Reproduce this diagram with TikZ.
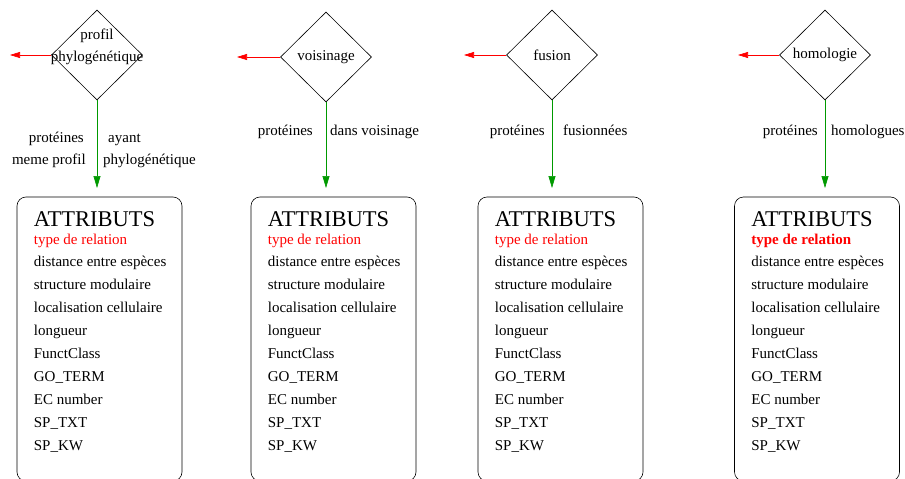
\documentclass[tikz,border=0pt]{standalone}
\usepackage{fontspec}
\setmainfont{Liberation Serif}
\usetikzlibrary{shapes.geometric,arrows.meta,calc}

\newcommand{\attrlines}[2]{%
   \node[anchor=base west,font=\fontsize{22.5}{24}\selectfont] (#1t) at ($(#1.north west)+(17,30)$) {ATTRIBUTS};
   \node[anchor=base west,text=red,font=\fontsize{15}{17}\selectfont#2] (#1r) at ($(#1.north west)+(17,48)$) {type de relation};
   \foreach \t [count=\i] in {distance entre espèces,structure modulaire,localisation cellulaire,longueur,FunctClass,GO\_TERM,EC number,SP\_TXT,SP\_KW}
      \node[anchor=base west] (#1-\i) at ($(#1.north west)+(17,47+23*\i)$) {\t};
}

\begin{document}
\begin{tikzpicture}[x=1pt,y=-1pt,
   every node/.style={font=\fontsize{15}{17}\selectfont,inner sep=0pt},
   relnode/.style={draw,shape=diamond,minimum width=91pt,minimum height=90pt,line width=0.6pt},
   attrbox/.style={draw,rounded corners=9pt,minimum width=165pt,minimum height=284pt,line width=0.6pt},
   redarr/.style={draw=red,line width=0.6pt,-{Triangle[length=10pt,width=6pt]}},
   greenarr/.style={draw=green!60!black,line width=0.6pt,-{Triangle[length=12pt,width=7pt]}}]
   \useasboundingbox (0,0) rectangle (905,479);
   \begin{scope}
   \clip (0,0) rectangle (905,479);

   % relations
   \node[relnode] (d1) at (97,55) {};
   \node[relnode] (d2) at (326,57) {};
   \node[relnode] (d3) at (552,55) {};
   \node[relnode] (d4) at (825,55) {};
   \node[align=center,font=\fontsize{15}{22}\selectfont] (d1t) at (97,47) {profil\\phylogénétique};
   \node (d2t) at (d2) {voisinage};
   \node (d3t) at (d3) {fusion};
   \node (d4t) at (d4) {homologie};

   % free ends of the red arrows
   \coordinate (e1) at (10,55);
   \coordinate (e2) at (237,57);
   \coordinate (e3) at (464,55);
   \coordinate (e4) at (738,55);
   \draw[redarr] (d1.west) -- (e1);
   \draw[redarr] (d2.west) -- (e2);
   \draw[redarr] (d3.west) -- (e3);
   \draw[redarr] (d4.west) -- (e4);

   % attribute boxes
   \node[attrbox] (b1) at (99.5,339) {};
   \node[attrbox] (b2) at (333.5,339) {};
   \node[attrbox] (b3) at (560.5,339) {};
   \node[attrbox] (b4) at (817,339) {};
   \attrlines{b1}{}
   \attrlines{b2}{}
   \attrlines{b3}{}
   \attrlines{b4}{\bfseries}

   % links
   \coordinate (a1) at (97,188);
   \coordinate (a2) at (326,188);
   \coordinate (a3) at (552,188);
   \coordinate (a4) at (825,188);
   \draw[greenarr] (d1.south) -- (a1);
   \draw[greenarr] (d2.south) -- (a2);
   \draw[greenarr] (d3.south) -- (a3);
   \draw[greenarr] (d4.south) -- (a4);

   \node[anchor=base east] (l1a) at (84,142) {protéines};
   \node[anchor=base east] (l1b) at (86,164) {meme profil};
   \node[anchor=base west] (l1c) at (108,142) {ayant};
   \node[anchor=base west] (l1d) at (103,164) {phylogénétique};
   \node[anchor=base east] (l2a) at (313,135) {protéines};
   \node[anchor=base west] (l2b) at (330,135) {dans voisinage};
   \node[anchor=base east] (l3a) at (545,135) {protéines};
   \node[anchor=base west] (l3b) at (563,135) {fusionnées};
   \node[anchor=base east] (l4a) at (818,135) {protéines};
   \node[anchor=base west] (l4b) at (831,135) {homologues};
   \end{scope}
\end{tikzpicture}
\end{document}
